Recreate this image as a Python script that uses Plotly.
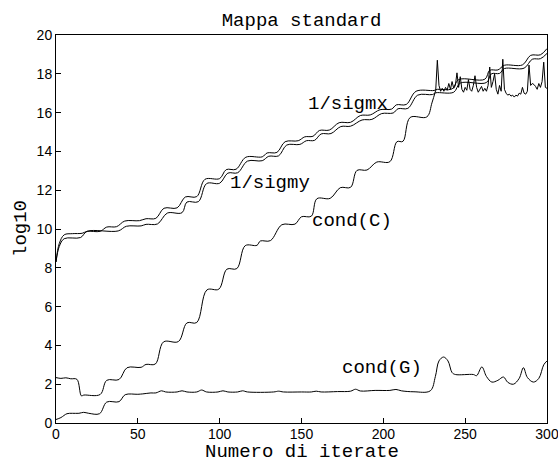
import plotly.graph_objects as go

# ---- data (log10 values vs. iteration number) ----
sigmx_x = [0, 2, 5, 10, 16, 19, 27, 31, 37, 42, 51, 55, 61, 66, 74, 79, 86, 91, 100,
           104, 110, 116, 126, 129, 135, 140, 148, 152, 157, 161, 167, 173, 180, 186,
           192, 198, 205, 208, 214, 220, 231, 233, 242, 246, 262, 265, 270, 274, 285,
           290, 296, 300]
sigmx_y = [8.3, 9.25, 9.7, 9.76, 9.78, 9.88, 9.88, 10.1, 10.12, 10.41, 10.43, 10.53,
           10.55, 11.07, 11.09, 11.65, 11.67, 12.56, 12.6, 13.06, 13.08, 13.7, 13.72,
           13.92, 13.95, 14.5, 14.55, 14.75, 14.78, 15.08, 15.1, 15.48, 15.5, 15.85,
           15.88, 16.15, 16.18, 16.4, 16.42, 17.1, 17.14, 17.2, 17.22, 17.7, 17.72,
           18.18, 18.2, 18.44, 18.46, 18.95, 18.98, 19.3]

sigmy_x = [0, 2, 5, 15, 19, 38, 43, 52, 55, 62, 68, 77, 80, 87, 92, 100, 105, 111, 117,
           126, 130, 136, 141, 149, 153, 158, 162, 168, 174, 180, 187, 193, 199, 206,
           209, 215, 221, 230, 232, 243, 247, 263, 266, 271, 274, 286, 291, 296, 300]
sigmy_y = [8.3, 9.1, 9.5, 9.56, 9.88, 9.9, 10.14, 10.16, 10.24, 10.26, 10.82, 10.84,
           11.39, 11.41, 12.34, 12.36, 12.88, 12.9, 13.5, 13.52, 13.75, 13.77, 14.33,
           14.36, 14.55, 14.57, 14.9, 14.92, 15.28, 15.3, 15.62, 15.65, 15.95, 15.98,
           16.2, 16.22, 16.9, 16.93, 17.02, 17.05, 17.52, 17.55, 18.0, 18.02, 18.27,
           18.29, 18.75, 18.78, 19.05]

condc_x = [0, 3, 6, 9, 12.8, 15.5, 17, 27, 31, 38.5, 43.4, 52, 55, 60.7, 65.7, 74.8,
           80, 86, 92.2, 99.5, 104.4, 110.5, 115.6, 122.8, 124.8, 131, 138, 146, 150,
           156, 159.4, 167.5, 173.7, 180, 183.9, 190, 196, 204, 208.3, 212, 216.4,
           226.6, 229.7, 232]
condc_y = [2.34, 2.3, 2.33, 2.28, 2.25, 1.4, 1.44, 1.47, 2.2, 2.24, 2.85, 2.87, 3.02,
           3.04, 4.18, 4.2, 5.16, 5.18, 6.86, 6.9, 7.93, 7.96, 9.14, 9.16, 9.38, 9.4,
           10.22, 10.25, 10.63, 10.66, 11.56, 11.58, 12.13, 12.15, 13.02, 13.04, 13.45,
           13.47, 14.5, 14.52, 15.75, 15.78, 16.5, 17.15]

# cond(C) once it saturates: one value per iteration, 233..300
condc_tail_x = list(range(233, 301))
condc_tail_y = [18.7, 17.4, 17.1, 17.25, 17.1, 17.3, 17.15, 17.5, 17.2, 17.6, 17.25,
                17.4, 18.05, 17.3, 17.85, 17.2, 17.05, 17.3, 17.15, 17.7, 17.2, 17.1,
                17.4, 17.9, 17.3, 17.05, 17.2, 17.35, 17.1, 17.25, 17.1, 17.4, 18.35,
                17.3, 17.6, 18.0, 17.2, 16.95, 17.4, 17.1, 18.75, 17.2, 17.0, 16.9,
                16.95, 16.85, 16.9, 16.8, 16.9, 16.85, 17.0, 16.95, 17.3, 17.0, 16.95,
                17.1, 18.45, 17.4, 17.5, 17.45, 17.35, 17.2, 17.5, 17.3, 17.6, 18.6,
                17.3, 17.25]

condg_x = [0, 3, 6.7, 10, 14, 16.9, 20, 26.6, 31, 38.5, 42.3, 50, 53, 58, 61, 64.5, 67,
           74, 77, 80, 86, 89, 92, 99, 102, 105, 111, 114, 117, 133, 136, 139, 150, 156,
           159, 162, 172, 180, 183, 186, 195, 204, 207.7, 211, 218.7, 228.7, 231.8,
           234, 236.8, 239.5, 242, 244, 255, 257, 260.2, 263, 266.3, 270, 273.4, 276,
           279.5, 283, 285.6, 288, 291.7, 295, 298, 300]
condg_y = [0.18, 0.28, 0.48, 0.5, 0.5, 0.55, 0.5, 0.48, 1.08, 1.1, 1.46, 1.48, 1.5,
           1.55, 1.55, 1.66, 1.6, 1.6, 1.66, 1.6, 1.6, 1.7, 1.6, 1.6, 1.66, 1.6, 1.6,
           1.66, 1.6, 1.6, 1.64, 1.6, 1.6, 1.6, 1.64, 1.6, 1.62, 1.64, 1.74, 1.65,
           1.68, 1.68, 1.73, 1.66, 1.61, 1.66, 2.4, 3.2, 3.4, 3.2, 2.6, 2.5, 2.5, 2.44,
           2.89, 2.4, 2.11, 2.2, 2.37, 2.1, 2.0, 2.3, 2.85, 2.35, 2.11, 2.3, 3.0, 3.2]

# labels written next to the curves: (text, x, y)
curve_labels = [
    ("1/sigmx", 152.5, 16.42),
    ("1/sigmy", 105.0, 12.38),
    ("cond(C)", 155.0, 10.4),
    ("cond(G)", 173.5, 2.85),
]

x_ticks = [0, 50, 100, 150, 200, 250, 300]
y_ticks = [0, 2, 4, 6, 8, 10, 12, 14, 16, 18, 20]

MONO = "Liberation Mono, Courier New, monospace"
SANS = "Liberation Sans, Arial, Helvetica, sans-serif"
line_style = dict(color="black", width=1)

fig = go.Figure()
fig.add_trace(go.Scatter(x=sigmx_x, y=sigmx_y, mode="lines",
                         line=dict(shape="spline", **line_style)))
fig.add_trace(go.Scatter(x=sigmy_x, y=sigmy_y, mode="lines",
                         line=dict(shape="spline", **line_style)))
fig.add_trace(go.Scatter(x=condc_x, y=condc_y, mode="lines",
                         line=dict(shape="spline", **line_style)))
fig.add_trace(go.Scatter(x=[condc_x[-1]] + condc_tail_x,
                         y=[condc_y[-1]] + condc_tail_y, mode="lines",
                         line=dict(shape="linear", **line_style)))
fig.add_trace(go.Scatter(x=condg_x, y=condg_y, mode="lines",
                         line=dict(shape="spline", **line_style)))

for text, lx, ly in curve_labels:
    fig.add_annotation(x=lx, y=ly, xref="x", yref="y", text=text, showarrow=False,
                       xanchor="left", yanchor="middle",
                       font=dict(family=MONO, size=19, color="black"))

# axis titles
fig.add_annotation(x=0.5, y=0, xref="paper", yref="paper", text="Numero di iterate",
                   showarrow=False, xanchor="center", yanchor="middle", yshift=-29,
                   font=dict(family=MONO, size=19, color="black"))
fig.add_annotation(x=0, y=0.5, xref="paper", yref="paper", text="log10",
                   showarrow=False, xanchor="center", yanchor="middle", xshift=-35,
                   textangle=-90, font=dict(family=MONO, size=19, color="black"))

axis_common = dict(showline=True, linecolor="black", linewidth=1, mirror=True,
                   ticks="inside", ticklen=5, tickcolor="black", tickwidth=1,
                   showgrid=False, zeroline=False, automargin=False,
                   ticklabeloverflow="allow",
                   tickfont=dict(family=SANS, size=14, color="black"))

fig.update_layout(
    width=558, height=462,
    margin=dict(l=56, r=11, t=35, b=39, autoexpand=False),
    paper_bgcolor="white", plot_bgcolor="white",
    showlegend=False,
    title=dict(text="Mappa standard", x=0.5, xref="paper", xanchor="center",
               y=1 - 19 / 462, yref="container", yanchor="middle", automargin=False,
               font=dict(family=MONO, size=19, color="black")),
    xaxis=dict(range=[0, 300], tickvals=x_ticks, ticklabelstandoff=-2, **axis_common),
    yaxis=dict(range=[0, 20], tickvals=y_ticks, **axis_common),
)

fig.write_html("out.html")
